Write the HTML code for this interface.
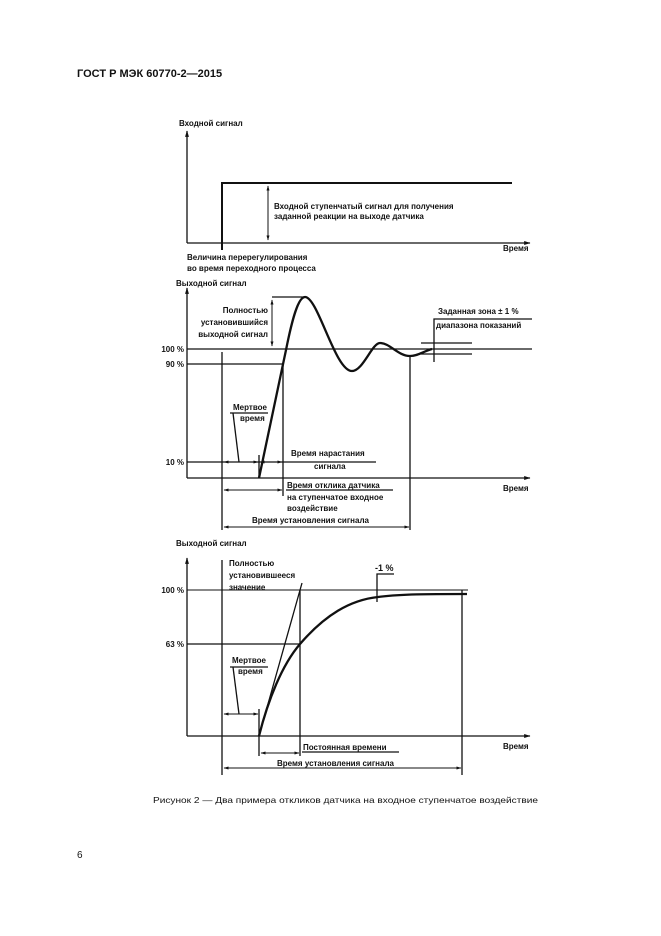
<!DOCTYPE html>
<html><head><meta charset="utf-8"><style>
html,body{margin:0;padding:0;background:#fff;}
svg{display:block;}
text{font-family:"Liberation Sans",sans-serif;fill:#111;}
.s{font-size:8px;font-weight:bold;}
</style></head><body>
<svg width="661" height="936" viewBox="0 0 661 936" xmlns="http://www.w3.org/2000/svg">
<defs>
<marker id="a" viewBox="0 0 10 10" refX="9" refY="5" markerWidth="5" markerHeight="5" orient="auto-start-reverse"><path d="M0,2 L10,5 L0,8 z" fill="#111"/></marker>
</defs>
<text x="77" y="77" style="font-size:11px;font-weight:bold">ГОСТ Р МЭК 60770-2—2015</text>

<g stroke="#111" fill="none" stroke-width="1.3">
<!-- chart 1 -->
<line x1="187" y1="243" x2="187" y2="131" marker-end="url(#a)"/>
<line x1="187" y1="243" x2="530" y2="243" marker-end="url(#a)"/>
<polyline points="222,250 222,183 512,183" stroke-width="2"/>
<line x1="268" y1="186" x2="268" y2="240" marker-start="url(#a)" marker-end="url(#a)" stroke-width="1"/>

<!-- chart 2 -->
<line x1="187" y1="478" x2="187" y2="288" marker-end="url(#a)"/>
<line x1="187" y1="478" x2="530" y2="478" marker-end="url(#a)"/>
<line x1="187" y1="349" x2="532" y2="349"/>
<line x1="187" y1="364" x2="283" y2="364"/>
<line x1="187" y1="462" x2="376" y2="462"/>
<line x1="222" y1="352" x2="222" y2="530"/>
<line x1="283" y1="364" x2="283" y2="496"/>
<line x1="410" y1="356" x2="410" y2="530"/>
<line x1="259" y1="455" x2="259" y2="478"/>
<path d="M259,478 L286,350 C292,320 298,297 305,297 C318,297 335,371 352,371 C363,371 372,343 380,343 C390,343 398,356 410,356 C418,356 424,351 432,349" stroke-width="2.3"/>
<line x1="272" y1="297" x2="305" y2="297"/>
<line x1="272" y1="300" x2="272" y2="346" marker-start="url(#a)" marker-end="url(#a)" stroke-width="1"/>
<line x1="421" y1="343" x2="472" y2="343"/>
<line x1="421" y1="354" x2="472" y2="354"/>
<polyline points="532,319 434,319 434,362"/>
<line x1="230" y1="413" x2="268" y2="413"/>
<polyline points="233,413 239,462"/>
<line x1="224" y1="462" x2="258" y2="462" marker-start="url(#a)" marker-end="url(#a)" stroke-width="1"/>
<line x1="260" y1="462" x2="282" y2="462" marker-start="url(#a)" marker-end="url(#a)" stroke-width="1"/>
<line x1="224" y1="490" x2="282" y2="490" marker-start="url(#a)" marker-end="url(#a)" stroke-width="1"/>
<line x1="286" y1="490" x2="393" y2="490"/>
<line x1="224" y1="527" x2="409" y2="527" marker-start="url(#a)" marker-end="url(#a)" stroke-width="1"/>

<!-- chart 3 -->
<line x1="187" y1="736" x2="187" y2="558" marker-end="url(#a)"/>
<line x1="187" y1="736" x2="530" y2="736" marker-end="url(#a)"/>
<line x1="187" y1="590" x2="468" y2="590" stroke-width="1"/>
<line x1="187" y1="644" x2="300" y2="644"/>
<line x1="222" y1="560" x2="222" y2="775"/>
<line x1="259" y1="709" x2="259" y2="756"/>
<line x1="300" y1="590" x2="300" y2="756"/>
<line x1="462" y1="590" x2="462" y2="775"/>
<line x1="259" y1="736" x2="302" y2="583"/>
<path d="M259,736 C268,700 282,665 300,644 C325,615 350,600 378,597 C400,594 430,594 467,594" stroke-width="2.3"/>
<polyline points="394,574 377,574 377,602"/>
<line x1="230" y1="667" x2="268" y2="667"/>
<polyline points="233,667 239,714"/>
<line x1="224" y1="714" x2="258" y2="714" marker-start="url(#a)" marker-end="url(#a)" stroke-width="1"/>
<line x1="261" y1="753" x2="299" y2="753" marker-start="url(#a)" marker-end="url(#a)" stroke-width="1"/>
<line x1="302" y1="752" x2="399" y2="752"/>
<line x1="224" y1="768" x2="461" y2="768" marker-start="url(#a)" marker-end="url(#a)" stroke-width="1"/>
</g>

<g class="s">
<text x="179" y="126" class="s">Входной сигнал</text>
<text x="274" y="209" class="s">Входной ступенчатый сигнал для получения</text>
<text x="274" y="219" class="s">заданной реакции на выходе датчика</text>
<text x="503" y="251" class="s">Время</text>
<text x="187" y="260" class="s">Величина перерегулирования</text>
<text x="187" y="271" class="s">во время переходного процесса</text>

<text x="176" y="286" class="s">Выходной сигнал</text>
<text x="268" y="313" class="s" text-anchor="end">Полностью</text>
<text x="268" y="325" class="s" text-anchor="end">установившийся</text>
<text x="268" y="337" class="s" text-anchor="end">выходной сигнал</text>
<text x="184" y="352" class="s" text-anchor="end">100 %</text>
<text x="184" y="367" class="s" text-anchor="end">90 %</text>
<text x="184" y="465" class="s" text-anchor="end">10 %</text>
<text x="438" y="314" class="s">Заданная зона ± 1 %</text>
<text x="436" y="328" class="s">диапазона показаний</text>
<text x="233" y="410" class="s">Мертвое</text>
<text x="240" y="421" class="s">время</text>
<text x="291" y="456" class="s">Время нарастания</text>
<text x="314" y="469" class="s">сигнала</text>
<text x="287" y="488" class="s">Время отклика датчика</text>
<text x="287" y="500" class="s">на ступенчатое входное</text>
<text x="287" y="511" class="s">воздействие</text>
<text x="252" y="523" class="s">Время установления сигнала</text>
<text x="503" y="491" class="s">Время</text>

<text x="176" y="546" class="s">Выходной сигнал</text>
<text x="229" y="566" class="s">Полностью</text>
<text x="229" y="578" class="s">установившееся</text>
<text x="229" y="590" class="s">значение</text>
<text x="184" y="593" class="s" text-anchor="end">100 %</text>
<text x="184" y="647" class="s" text-anchor="end">63 %</text>
<text x="375" y="571" class="s" style="font-size:9px">-1 %</text>
<text x="232" y="663" class="s">Мертвое</text>
<text x="238" y="674" class="s">время</text>
<text x="303" y="750" class="s">Постоянная времени</text>
<text x="277" y="766" class="s">Время установления сигнала</text>
<text x="503" y="749" class="s">Время</text>
</g>

<text x="153" y="803" style="font-size:8.5px" textLength="385" lengthAdjust="spacingAndGlyphs">Рисунок 2 — Два примера откликов датчика на входное ступенчатое воздействие</text>
<text x="77" y="858" style="font-size:10px">6</text>
</svg>
</body></html>
